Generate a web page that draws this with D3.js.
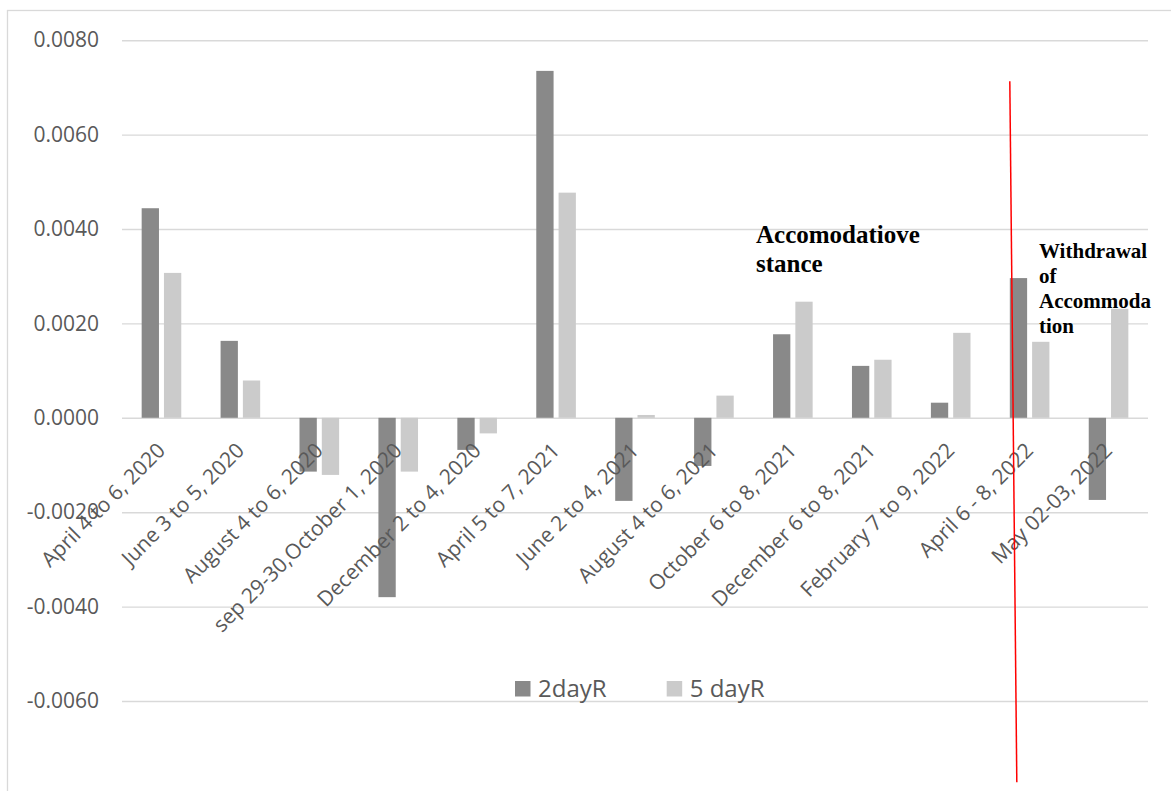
<!DOCTYPE html>
<html>
<head>
<meta charset="utf-8">
<script src="https://cdn.jsdelivr.net/npm/d3@7"></script>
<style>
  html, body { margin: 0; padding: 0; background: #ffffff; }
  svg { display: block; }
</style>
</head>
<body>
<svg id="chart" width="1171" height="791"></svg>
<script>
// Event windows (monetary policy announcements)
const categories = [
  "April 4 to 6, 2020",
  "June 3 to 5, 2020",
  "August 4 to 6, 2020",
  "sep 29-30,October 1, 2020",
  "December 2 to 4, 2020",
  "April 5 to 7, 2021",
  "June 2 to 4, 2021",
  "August 4 to 6, 2021",
  "October 6 to 8, 2021",
  "December 6 to 8, 2021",
  "February 7 to 9, 2022",
  "April 6 - 8, 2022",
  "May 02-03, 2022"
];

const seriesNames = ["2dayR", "5 dayR"];

const twoDayR = [0.00444, 0.00163, -0.00114, -0.00380, -0.00068, 0.00735, -0.00176, -0.00102, 0.00177, 0.00110, 0.00032, 0.00296, -0.00174];
const fiveDayR = [0.00307, 0.00079, -0.00121, -0.00114, -0.00033, 0.00477, 0.00006, 0.00047, 0.00246, 0.00123, 0.00180, 0.00161, 0.00231];

const yTicks = [-0.006, -0.004, -0.002, 0, 0.002, 0.004, 0.006, 0.008];
const yDomain = [-0.008, 0.008];

// Annotation texts and the policy-shift marker (in data terms)
const stanceLabel = ["Accomodatiove", "stance"];
const withdrawalLabel = ["Withdrawal", "of", "Accommoda", "tion"];
const shiftCategory = "April 6 - 8, 2022";
const shiftSpan = [0.00713, -0.00772];

const colors = { "2dayR": "#898989", "5 dayR": "#cbcbcb" };

const rows = categories.map((c, i) => ({ cat: c, values: [
  { key: "2dayR", value: twoDayR[i] },
  { key: "5 dayR", value: fiveDayR[i] }
]}));

const svg = d3.select("#chart");

// Chart border
svg.append("rect")
  .attr("x", 7.5).attr("y", 10.5)
  .attr("width", 1200).attr("height", 800)
  .attr("fill", "none").attr("stroke", "#d9d9d9").attr("stroke-width", 1.3);

const plot = { left: 122, right: 1148, top: 40.2, bottom: 795.4 };

const x0 = d3.scaleBand().domain(categories).range([plot.left, plot.right]).padding(0);
const x1 = d3.scaleBand().domain(seriesNames).range([-19.8, 19.8]).paddingInner(0.224);
const y = d3.scaleLinear().domain(yDomain).range([plot.bottom, plot.top]);

// Gridlines + tick labels
const yAxis = d3.axisLeft(y)
  .tickValues(yTicks)
  .tickSize(-(plot.right - plot.left))
  .tickPadding(23)
  .tickFormat(d => (Math.abs(d) < 1e-12 ? 0 : d).toFixed(4));

const gy = svg.append("g")
  .attr("transform", `translate(${plot.left},0)`)
  .call(yAxis);
gy.select(".domain").remove();
gy.selectAll(".tick line").attr("stroke", "#d9d9d9").attr("stroke-width", 1.4);
gy.selectAll(".tick text")
  .attr("fill", "#595959")
  .style("font-family", "'Open Sans', sans-serif")
  .style("font-size", "21px");

// Bars
const groups = svg.append("g").selectAll("g")
  .data(rows)
  .join("g")
  .attr("transform", d => `translate(${x0(d.cat) + x0.bandwidth() / 2},0)`);

groups.selectAll("rect")
  .data(d => d.values)
  .join("rect")
  .attr("x", d => x1(d.key))
  .attr("width", x1.bandwidth())
  .attr("y", d => y(Math.max(0, d.value)))
  .attr("height", d => Math.abs(y(d.value) - y(0)))
  .attr("fill", d => colors[d.key]);

// Category labels, rotated
svg.append("g").selectAll("text")
  .data(categories)
  .join("text")
  .attr("transform", c => `translate(${x0(c) + x0.bandwidth() / 2 + 5},${y(0) + 34}) rotate(-45)`)
  .attr("text-anchor", "end")
  .attr("fill", "#595959")
  .style("font-family", "'Open Sans', sans-serif")
  .style("font-size", "21px")
  .text(c => c);

// Legend
const legend = svg.append("g").attr("transform", "translate(515,681)");
const legendX = { "2dayR": 0, "5 dayR": 151.7 };
seriesNames.forEach(s => {
  const g = legend.append("g").attr("transform", `translate(${legendX[s]},0)`);
  g.append("rect").attr("width", 15.5).attr("height", 15.5).attr("fill", colors[s]);
  g.append("text")
    .attr("x", 23).attr("y", 15.5)
    .attr("fill", "#595959")
    .style("font-family", "'Open Sans', sans-serif")
    .style("font-size", "24px")
    .text(s);
});

// Policy-shift marker line
const shiftX = x0(shiftCategory) + x0.bandwidth() / 2 + x1("2dayR");
svg.append("line")
  .attr("x1", shiftX).attr("y1", y(shiftSpan[0]))
  .attr("x2", shiftX + 7).attr("y2", y(shiftSpan[1]))
  .attr("stroke", "#ff0000").attr("stroke-width", 1.5);

// Annotations
const serif = "'Liberation Serif', 'Times New Roman', serif";
svg.append("text")
  .attr("x", 756).attr("y", 243.3)
  .attr("font-family", serif).attr("font-weight", "bold").attr("font-size", 25)
  .attr("fill", "#000")
  .selectAll("tspan").data(stanceLabel).join("tspan")
  .attr("x", 756).attr("dy", (d, i) => i === 0 ? 0 : 28.4)
  .text(d => d);

svg.append("text")
  .attr("x", 1039).attr("y", 258.3)
  .attr("font-family", serif).attr("font-weight", "bold").attr("font-size", 21)
  .attr("fill", "#000")
  .selectAll("tspan").data(withdrawalLabel).join("tspan")
  .attr("x", 1039).attr("dy", (d, i) => i === 0 ? 0 : 25)
  .text(d => d);
</script>
</body>
</html>
